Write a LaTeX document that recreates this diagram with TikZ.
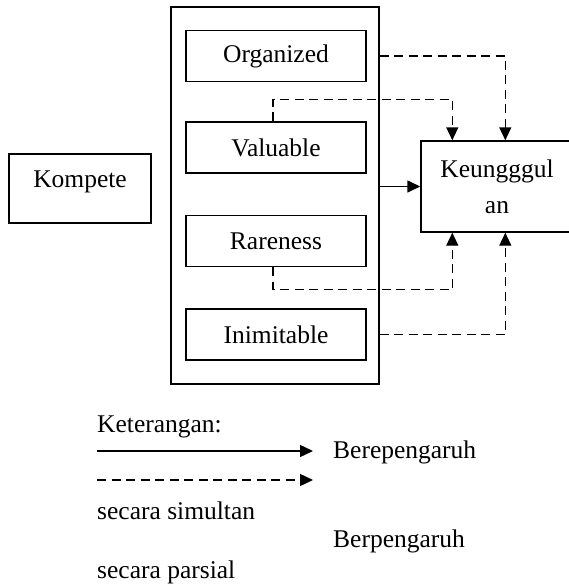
\documentclass[tikz,border=0pt]{standalone}
\usepackage{fontspec}
\setmainfont{Liberation Serif}
\usetikzlibrary{arrows.meta}

\tikzset{
  box/.style={draw, line width=1.4pt, inner sep=0pt},
  item/.style={box, minimum width=180pt, minimum height=51pt},
  dsh/.style={line width=1.4pt, dash pattern=on 9pt off 5.5pt},
  arr/.style={-{Triangle[length=13pt,width=12pt]}},
}

\begin{document}
\begin{tikzpicture}[x=1pt,y=-1pt,font=\fontsize{25.5}{30}\selectfont]
	\useasboundingbox (0,0) rectangle (569,586);

	%% Left box
	\node (komp) [box, minimum width=142pt, minimum height=69pt,
	  text height=18pt, text depth=21pt] at (80,188.5) {Kompete};

	%% Group box with the four factors
	\node (grp) [box, minimum width=208pt, minimum height=377pt] at (275,195.5) {};
	\node (org) [item] at (276,56) {Organized};
	\node (val) [item] at (276,147.5) {Valuable};
	\node (rar) [item] at (276,241) {Rareness};
	\node (ini) [item] at (276,334.5) {Inimitable};

	%% Target box (cut at the right edge)
	\node (keu) [box, minimum width=152pt, minimum height=91pt, align=center,
	  font=\fontsize{25.5}{36}\selectfont] at (497,186.5) {Keungggul\\an};

	%% Points where the dashed lines meet the target box
	\coordinate (T1) at ([xshift=32]keu.north west);
	\coordinate (T2) at ([xshift=85]keu.north west);
	\coordinate (B1) at ([xshift=32]keu.south west);
	\coordinate (B2) at ([xshift=85]keu.south west);

	%% Simultaneous effect
	\draw[line width=1.4pt,arr] (grp.east |- keu.west) -- (keu.west);

	%% Partial effects
	\draw[dsh,arr] (grp.east |- org.east) -| (T2);
	\draw[dsh,arr] ([xshift=-3]val.north) -- ++(0,-22) -| (T1);
	\draw[dsh,arr] ([xshift=-3]rar.south) -- ++(0,22) -| (B1);
	\draw[dsh,arr] (grp.east |- ini.east) -| (B2);

	%% Legend
	\coordinate (L1a) at (97,451);
	\coordinate (L1b) at (313,451);
	\coordinate (L2a) at (97,480);
	\coordinate (L2b) at (313,480);
	\node (ket) [anchor=base west, inner sep=0pt] at (97,432) {Keterangan:};
	\draw[line width=1.4pt,arr] (L1a) -- (L1b);
	\draw[dsh,arr] (L2a) -- (L2b);
	\node (txt1) [anchor=base west, inner sep=0pt] at (333,458) {Berepengaruh};
	\node (txt2) [anchor=base west, inner sep=0pt] at (97,519) {secara simultan};
	\node (txt3) [anchor=base west, inner sep=0pt] at (333,547) {Berpengaruh};
	\node (txt4) [anchor=base west, inner sep=0pt] at (97,578) {secara parsial};
\end{tikzpicture}
\end{document}
